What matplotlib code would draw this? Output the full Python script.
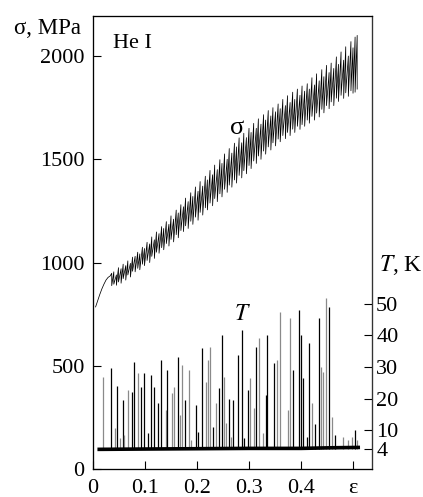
import numpy as np
import matplotlib
matplotlib.use("Agg")
import matplotlib.pyplot as plt

plt.rcParams['font.family'] = ['Liberation Serif', 'DejaVu Serif']
plt.rcParams['mathtext.fontset'] = 'stix'

# smooth start of the stress curve (before serrations)
eps_init = [0.005, 0.009, 0.013, 0.017, 0.021, 0.025, 0.029, 0.033]
sig_init = [785, 815, 845, 872, 895, 915, 928, 935]

# serrations: strain at each drop, stress before and after the drop
eps_drop = [0.036, 0.040, 0.045, 0.049, 0.054, 0.058, 0.063, 0.067, 0.072, 0.076,
            0.081, 0.086, 0.090, 0.095, 0.099, 0.104, 0.109, 0.113, 0.118, 0.122,
            0.127, 0.132, 0.136, 0.141, 0.146, 0.150, 0.155, 0.160, 0.164, 0.169,
            0.174, 0.178, 0.183, 0.188, 0.192, 0.197, 0.202, 0.206, 0.211, 0.216,
            0.220, 0.225, 0.230, 0.234, 0.239, 0.244, 0.248, 0.253, 0.258, 0.262,
            0.267, 0.272, 0.276, 0.281, 0.286, 0.290, 0.295, 0.300, 0.304, 0.309,
            0.314, 0.318, 0.323, 0.328, 0.332, 0.337, 0.342, 0.346, 0.351, 0.356,
            0.360, 0.365, 0.370, 0.374, 0.379, 0.384, 0.388, 0.393, 0.398, 0.402,
            0.407, 0.412, 0.416, 0.421, 0.426, 0.430, 0.435, 0.440, 0.444, 0.449,
            0.454, 0.458, 0.463, 0.468, 0.472, 0.477, 0.482, 0.486, 0.491, 0.496,
            0.500, 0.504, 0.508]
sig_hi = [948, 955, 940, 975, 970, 992, 985, 1008, 996, 1026,
          1030, 1050, 1042, 1074, 1068, 1098, 1090, 1124, 1110, 1148,
          1140, 1174, 1165, 1198, 1185, 1226, 1210, 1254, 1240, 1280,
          1270, 1312, 1295, 1338, 1320, 1366, 1345, 1392, 1370, 1418,
          1400, 1446, 1425, 1472, 1450, 1498, 1480, 1526, 1500, 1552,
          1530, 1578, 1560, 1604, 1580, 1626, 1605, 1650, 1630, 1674,
          1650, 1696, 1670, 1716, 1690, 1736, 1710, 1750, 1730, 1768,
          1745, 1790, 1760, 1808, 1775, 1825, 1790, 1840, 1810, 1855,
          1830, 1866, 1840, 1895, 1860, 1914, 1880, 1934, 1900, 1955,
          1920, 1966, 1940, 1996, 1960, 2020, 1980, 2045, 2000, 2070,
          2040, 2092, 2100]
sig_lo = [888, 895, 890, 906, 900, 922, 915, 940, 930, 958,
          955, 972, 965, 992, 985, 1010, 1000, 1030, 1020, 1050,
          1045, 1072, 1062, 1092, 1080, 1112, 1100, 1135, 1120, 1155,
          1150, 1178, 1165, 1200, 1185, 1220, 1205, 1243, 1230, 1265,
          1255, 1288, 1275, 1310, 1295, 1333, 1318, 1355, 1340, 1375,
          1365, 1400, 1385, 1422, 1410, 1445, 1430, 1470, 1455, 1492,
          1480, 1516, 1500, 1540, 1525, 1560, 1545, 1580, 1565, 1598,
          1585, 1615, 1600, 1630, 1615, 1646, 1630, 1660, 1645, 1668,
          1660, 1690, 1675, 1708, 1690, 1724, 1705, 1742, 1725, 1760,
          1745, 1778, 1760, 1796, 1780, 1810, 1795, 1822, 1805, 1832,
          1820, 1825, 1840]

# temperature spikes (strain, peak T in K, drawn dark or grey)
eps_T = [0.019, 0.035, 0.043, 0.047, 0.052, 0.057, 0.067, 0.075, 0.079, 0.087,
         0.092, 0.099, 0.111, 0.117, 0.125, 0.131, 0.140, 0.143, 0.152, 0.156,
         0.163, 0.167, 0.172, 0.176, 0.185, 0.199, 0.210, 0.218, 0.221, 0.225,
         0.230, 0.237, 0.243, 0.248, 0.252, 0.255, 0.261, 0.269, 0.279, 0.287,
         0.298, 0.301, 0.310, 0.313, 0.319, 0.332, 0.335, 0.348, 0.353, 0.360,
         0.375, 0.378, 0.385, 0.396, 0.400, 0.404, 0.415, 0.422, 0.434, 0.438,
         0.443, 0.449, 0.454, 0.460, 0.481, 0.499, 0.503, 0.507,
         0.060, 0.105, 0.188, 0.201, 0.265, 0.291, 0.326, 0.411, 0.426, 0.466, 0.490]
T_peak = [26.8, 29.7, 10.7, 24.0, 7.6, 19.6, 22.7, 22.1, 31.5, 28.1,
          23.7, 28.1, 27.4, 23.7, 18.6, 32.2, 16.4, 29.0, 21.8, 23.7,
          33.1, 14.8, 30.6, 19.6, 29.0, 18.0, 36.0, 25.2, 32.2, 36.3,
          11.0, 18.6, 23.3, 40.1, 26.8, 12.3, 19.9, 19.6, 33.8, 41.6,
          22.7, 26.5, 17.0, 36.3, 39.1, 21.1, 40.1, 31.2, 32.2, 47.3,
          16.4, 45.4, 29.0, 47.9, 40.1, 26.5, 37.5, 18.6, 45.4, 30.0,
          28.4, 51.7, 48.9, 14.2, 7.9, 7.9, 10.1, 6.9,
          8.5, 9.0, 7.0, 9.5, 8.0, 7.5, 9.0, 8.0, 12.0, 8.5, 7.0]
T_dark = [0, 1, 0, 1, 0, 1, 0, 1, 1, 0,
          1, 1, 1, 1, 1, 1, 0, 1, 0, 0,
          1, 0, 0, 1, 0, 1, 1, 0, 0, 0,
          1, 0, 1, 1, 0, 0, 1, 1, 1, 1,
          1, 0, 0, 1, 0, 1, 1, 1, 0, 0,
          0, 0, 1, 1, 1, 1, 1, 0, 1, 0,
          0, 0, 1, 0, 0, 0, 1, 0,
          0, 1, 0, 1, 0, 1, 0, 1, 1, 1, 0]

# bath temperature baseline
eps_base = [0.012, 0.10, 0.20, 0.30, 0.40, 0.46, 0.51]
T_base = [4.0, 4.1, 4.2, 4.3, 4.3, 4.5, 4.6]

fig = plt.figure(figsize=(4.23, 4.97), dpi=100)
ax = fig.add_axes([93 / 423, 28 / 497, 279 / 423, 453 / 497])

# build the sawtooth path from the read values
xs = list(eps_init)
ys = list(sig_init)
for e, hi, lo in zip(eps_drop, sig_hi, sig_lo):
    xs += [e, e]
    ys += [hi, lo]
ax.plot(xs, ys, color='black', lw=0.55)

ax.set_xlim(0, 0.5365)
ax.set_ylim(0, 2194)
ax.set_xticks([0, 0.1, 0.2, 0.3, 0.4, 0.5])
ax.set_xticklabels(['0', '0.1', '0.2', '0.3', '0.4', 'ε'])
ax.set_yticks([0, 500, 1000, 1500, 2000])
ax.tick_params(direction='in', length=6, width=0.8, labelsize=16)
ax.tick_params(axis='y', pad=6)
ax.tick_params(axis='x', pad=7)
for s in ax.spines.values():
    s.set_linewidth(0.9)
    s.set_color('#333333')

ax2 = ax.twinx()
ax2.set_ylim(-2.2, 140.7)
for e, t, d in zip(eps_T, T_peak, T_dark):
    ax2.vlines(e, 4.2, t, color='black' if d else '#8a8a8a', lw=0.9)
ax2.plot(eps_base, T_base, color='black', lw=2.6)
ax2.set_yticks([4, 10, 20, 30, 40, 50])
ax2.tick_params(direction='in', length=6, width=0.8, labelsize=16, pad=3)
ax2.spines['right'].set_color('#333333')

ax.text(0.038, 2063, 'He I', fontsize=16, va='center', ha='left')
ax.text(0.277, 1651, 'σ', fontsize=19, va='center', ha='center')
ax2.text(0.2865, 46.5, '$T$', fontsize=17, va='center', ha='center')
fig.text(47 / 423, 1 - 29 / 497, 'σ, MPa', fontsize=16.5, va='center', ha='center')
fig.text(401 / 423, 1 - 265 / 497, '$T$, K', fontsize=17, va='center', ha='center')

fig.savefig('out.png', dpi=100)
